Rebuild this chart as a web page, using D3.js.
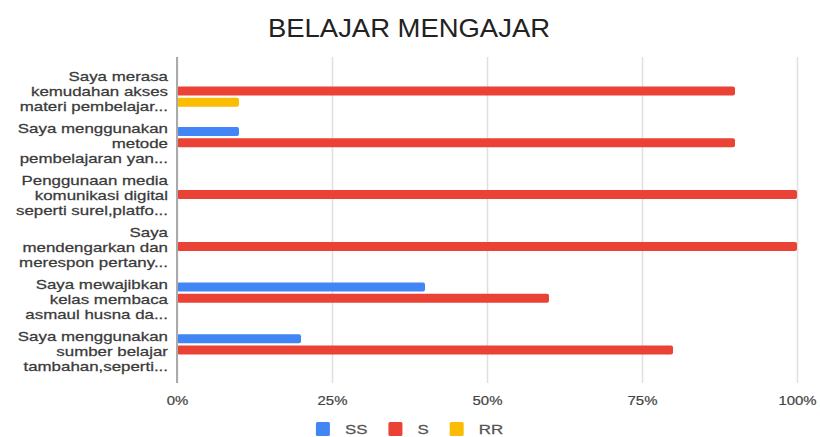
<!DOCTYPE html>
<html>
<head>
<meta charset="utf-8">
<script src="https://cdn.jsdelivr.net/npm/d3@7"></script>
<style>
  html, body { margin: 0; padding: 0; background: #fff; }
  svg { display: block; font-family: "Liberation Sans", Arial, sans-serif; }
</style>
</head>
<body>
<div id="chart"></div>
<script>
  // data
  const categoryLines = [
    ["Saya merasa", "kemudahan akses", "materi pembelajar..."],
    ["Saya menggunakan", "metode", "pembelajaran yan..."],
    ["Penggunaan media", "komunikasi digital", "seperti surel,platfo..."],
    ["Saya", "mendengarkan dan", "merespon pertany..."],
    ["Saya mewajibkan", "kelas membaca", "asmaul husna da..."],
    ["Saya menggunakan", "sumber belajar", "tambahan,seperti..."]
  ];
  const seriesNames = ["SS", "S", "RR"];
  const seriesColors = ["#4285f4", "#ea4335", "#fbbc04"];
  const valuesSS = [0, 0.1, 0, 0, 0.4, 0.2];
  const valuesS = [0.9, 0.9, 1, 1, 0.6, 0.8];
  const valuesRR = [0.1, 0, 0, 0, 0, 0];
  const tickValues = [0, 0.25, 0.5, 0.75, 1];
  const title = "BELAJAR MENGAJAR";

  const width = 820;
  const height = 437;
  const plot = { left: 177, right: 797, top: 57, bottom: 383 };
  const textStretch = 1.3; // labels in the picture look wide

  const rows = categoryLines.map((lines, i) => ({
    id: i,
    lines,
    values: [valuesSS[i], valuesS[i], valuesRR[i]]
  }));

  const svg = d3
    .select("#chart")
    .append("svg")
    .attr("width", width)
    .attr("height", height);

  const x = d3.scaleLinear().domain([0, 1]).range([plot.left, plot.right]);
  const y0 = d3
    .scaleBand()
    .domain(rows.map((d) => d.id))
    .range([65, 376]);
  const y1 = d3
    .scaleBand()
    .domain(seriesNames)
    .range([-18, 18])
    .padding(0.2);

  // title
  svg
    .append("text")
    .attr("x", width / 2 - 1)
    .attr("y", 37)
    .attr("text-anchor", "middle")
    .attr("font-size", 25)
    .attr("fill", "#222")
    .attr("textLength", 282)
    .attr("lengthAdjust", "spacingAndGlyphs")
    .text(title);

  // gridlines + tick labels
  const xAxis = svg
    .append("g")
    .attr("transform", `translate(0,${plot.bottom})`)
    .call(
      d3
        .axisBottom(x)
        .tickValues(tickValues)
        .tickFormat(d3.format(".0%"))
        .tickSize(-(plot.bottom - plot.top))
        .tickPadding(13)
    );
  xAxis.select(".domain").remove();
  xAxis
    .selectAll(".tick line")
    .attr("stroke", "#e0e0e0")
    .attr("stroke-width", 1.5);
  xAxis
    .selectAll(".tick text")
    .attr("font-size", 13)
    .attr("fill", "#444")
    .attr("stroke", "#444")
    .attr("stroke-width", 0.2)
    .attr("font-family", "Liberation Sans, Arial, sans-serif")
    .attr("transform", "scale(1.15,1)");

  // category labels
  const labelG = svg
    .append("g")
    .selectAll("g")
    .data(rows)
    .join("g")
    .attr("transform", (d) => `translate(168,${y0(d.id) + y0.bandwidth() / 2 + 1})`);
  labelG
    .append("text")
    .attr("text-anchor", "end")
    .attr("font-size", 13)
    .attr("fill", "#3a3a3a")
    .attr("stroke", "#3a3a3a")
    .attr("stroke-width", 0.25)
    .attr("transform", `scale(${textStretch},1)`)
    .selectAll("tspan")
    .data((d) => d.lines.map((t, j) => ({ t, j, n: d.lines.length })))
    .join("tspan")
    .attr("x", 0)
    .attr("y", (d) => (d.j - (d.n - 1) / 2) * 15)
    .attr("dy", "0.35em")
    .text((d) => d.t);

  // bars
  const groups = svg
    .append("g")
    .selectAll("g")
    .data(rows)
    .join("g")
    .attr("transform", (d) => `translate(0,${y0(d.id) + y0.bandwidth() / 2})`);
  groups
    .selectAll("rect")
    .data((d) => d.values.map((v, k) => ({ v, k })).filter((e) => e.v > 0))
    .join("rect")
    .attr("x", x(0))
    .attr("y", (d) => y1(seriesNames[d.k]))
    .attr("height", y1.bandwidth())
    .attr("width", (d) => x(d.v) - x(0))
    .attr("rx", 2)
    .attr("fill", (d) => seriesColors[d.k]);

  // baseline
  svg
    .append("line")
    .attr("x1", x(0))
    .attr("x2", x(0))
    .attr("y1", plot.top)
    .attr("y2", plot.bottom)
    .attr("stroke", "#aaa")
    .attr("stroke-width", 2);

  // legend, laid out left to right then centred
  const legend = svg.append("g");
  let cursor = 0;
  seriesNames.forEach((name, k) => {
    const item = legend.append("g").attr("transform", `translate(${cursor},0)`);
    item
      .append("rect")
      .attr("x", 0)
      .attr("y", -7)
      .attr("width", 14)
      .attr("height", 14)
      .attr("rx", 1.5)
      .attr("fill", seriesColors[k]);
    const t = item
      .append("text")
      .attr("font-size", 13)
      .attr("fill", "#555")
      .attr("stroke", "#555")
      .attr("stroke-width", 0.25)
      .attr("dy", "0.35em")
      .attr("transform", `translate(29,0) scale(${textStretch},1)`)
      .text(name);
    const w = t.node().getComputedTextLength() * textStretch;
    cursor += 29 + w + 21;
  });
  const legendWidth = cursor - 21;
  legend.attr("transform", `translate(${width / 2 - legendWidth / 2 - 0.5},429)`);
</script>
</body>
</html>
